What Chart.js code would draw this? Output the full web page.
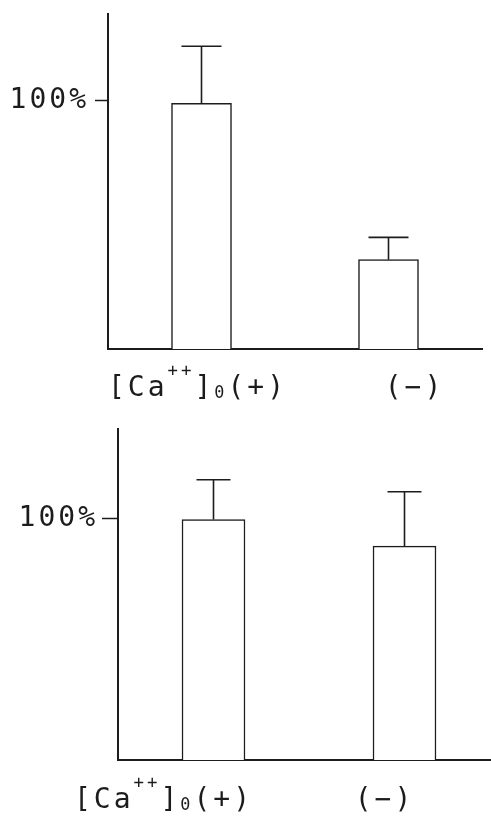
<!DOCTYPE html>
<html>
<head>
<meta charset="utf-8">
<script src="https://cdn.jsdelivr.net/npm/chart.js@4/dist/chart.umd.min.js"></script>
<style>
  html, body { margin: 0; padding: 0; background: #fff; }
  body { width: 491px; height: 816px; position: relative; overflow: hidden; }
  canvas { position: absolute; left: 0; }
  #topChart { top: 0; }
  #bottomChart { top: 410px; }
</style>
</head>
<body>
<canvas id="topChart" width="491" height="410"></canvas>
<canvas id="bottomChart" width="500" height="406"></canvas>
<script>
// Dane (% wartości kontrolnej)
const categories = ['[Ca++]o(+)', '(−)'];
const topMeans = [99, 36];
const topErrors = [23, 9];
const bottomMeans = [99.5, 88.5];
const bottomErrors = [16.5, 22.5];
const yTicks = [100];

// Etykiety kategorii: [tekst, skala czcionki, przesunięcie pionowe]
const labelParts = [
  [['[', 1, 0], ['Ca', 1, 0], ['++', 0.62, -0.72], [']', 1, 0], ['0', 0.6, 0.08], ['(+)', 1, 0]],
  [['(−)', 1, 0]]
];

const INK = '#1c1c1c';
const FONT = "'DejaVu Sans Mono', monospace";

// Szerszy odstęp liter jak w oryginale (maszynopis)
const spacingPlugin = {
  id: 'spacing',
  beforeDraw(chart) {
    chart.ctx.letterSpacing = '3px';
  }
};

// Słupki błędów rysowane przez skalę wykresu
const errorBarPlugin = {
  id: 'errorBars',
  afterDatasetsDraw(chart, args, opts) {
    const ctx = chart.ctx;
    const yScale = chart.scales.y;
    const meta = chart.getDatasetMeta(0);
    ctx.save();
    ctx.strokeStyle = INK;
    ctx.lineWidth = 1.6;
    meta.data.forEach((bar, i) => {
      const top = yScale.getPixelForValue(opts.means[i] + opts.errors[i]);
      ctx.beginPath();
      ctx.moveTo(bar.x, bar.y);
      ctx.lineTo(bar.x, top);
      ctx.moveTo(bar.x - opts.cap / 2, top);
      ctx.lineTo(bar.x + opts.cap / 2, top);
      ctx.stroke();
    });
    ctx.restore();
  }
};

// Etykiety osi X z indeksem górnym i dolnym
const categoryLabelPlugin = {
  id: 'categoryLabels',
  afterDraw(chart, args, opts) {
    const ctx = chart.ctx;
    const xScale = chart.scales.x;
    const baseline = chart.chartArea.bottom + opts.baselineGap;
    ctx.save();
    ctx.fillStyle = INK;
    ctx.textBaseline = 'alphabetic';
    ctx.textAlign = 'left';
    ctx.letterSpacing = '3px';
    labelParts.forEach((parts, i) => {
      let total = 0;
      parts.forEach(p => {
        ctx.font = (opts.size * p[1]) + 'px ' + FONT;
        total += ctx.measureText(p[0]).width;
      });
      let x = xScale.getPixelForValue(i) + opts.shift[i] - total / 2;
      parts.forEach(p => {
        ctx.font = (opts.size * p[1]) + 'px ' + FONT;
        ctx.fillText(p[0], x, baseline + p[2] * opts.size);
        x += ctx.measureText(p[0]).width;
      });
    });
    ctx.restore();
  }
};

function makeChart(id, means, errors, cfg) {
  return new Chart(document.getElementById(id), {
    type: 'bar',
    data: {
      labels: categories,
      datasets: [{
        data: means,
        backgroundColor: '#ffffff',
        borderColor: INK,
        borderWidth: 1.5,
        borderSkipped: 'bottom',
        barThickness: cfg.barWidth
      }]
    },
    options: {
      responsive: false,
      animation: false,
      events: [],
      layout: { padding: cfg.padding },
      plugins: {
        legend: { display: false },
        tooltip: { enabled: false },
        errorBars: { means: means, errors: errors, cap: cfg.cap },
        categoryLabels: { size: 28, baselineGap: cfg.baselineGap, shift: cfg.labelShift }
      },
      scales: {
        x: {
          ticks: { display: false },
          grid: { display: false, drawTicks: false },
          border: { display: true, color: INK, width: 2 },
          afterFit(scale) {
            scale.height = 0;
            scale.paddingLeft = 0;
            scale.paddingRight = 0;
          }
        },
        y: {
          min: 0,
          max: cfg.yMax,
          afterBuildTicks(axis) { axis.ticks = yTicks.map(v => ({ value: v })); },
          afterFit(scale) {
            scale.width = cfg.axisX;
            scale.paddingTop = 0;
            scale.paddingBottom = 0;
          },
          ticks: {
            color: INK,
            padding: cfg.tickPad,
            font: { family: FONT, size: 28 },
            callback: v => v + '%'
          },
          grid: {
            drawOnChartArea: false,
            drawTicks: true,
            tickLength: cfg.tickLen,
            tickColor: INK,
            tickWidth: 1.5
          },
          border: { display: true, color: INK, width: 2 }
        }
      }
    },
    plugins: [spacingPlugin, errorBarPlugin, categoryLabelPlugin]
  });
}

document.addEventListener('DOMContentLoaded', function() {
  makeChart('topChart', topMeans, topErrors, {
    padding: { top: 14, right: 9, bottom: 61, left: 0 },
    axisX: 108, yMax: 135, barWidth: 60, cap: 40,
    tickLen: 13, tickPad: 6, baselineGap: 47, labelShift: [-4, 26]
  });
  makeChart('bottomChart', bottomMeans, bottomErrors, {
    padding: { top: 19, right: 0, bottom: 56, left: 0 },
    axisX: 118, yMax: 137, barWidth: 63, cap: 34,
    tickLen: 16, tickPad: 4, baselineGap: 48, labelShift: [-50, -20]
  });
});
</script>
</body>
</html>
